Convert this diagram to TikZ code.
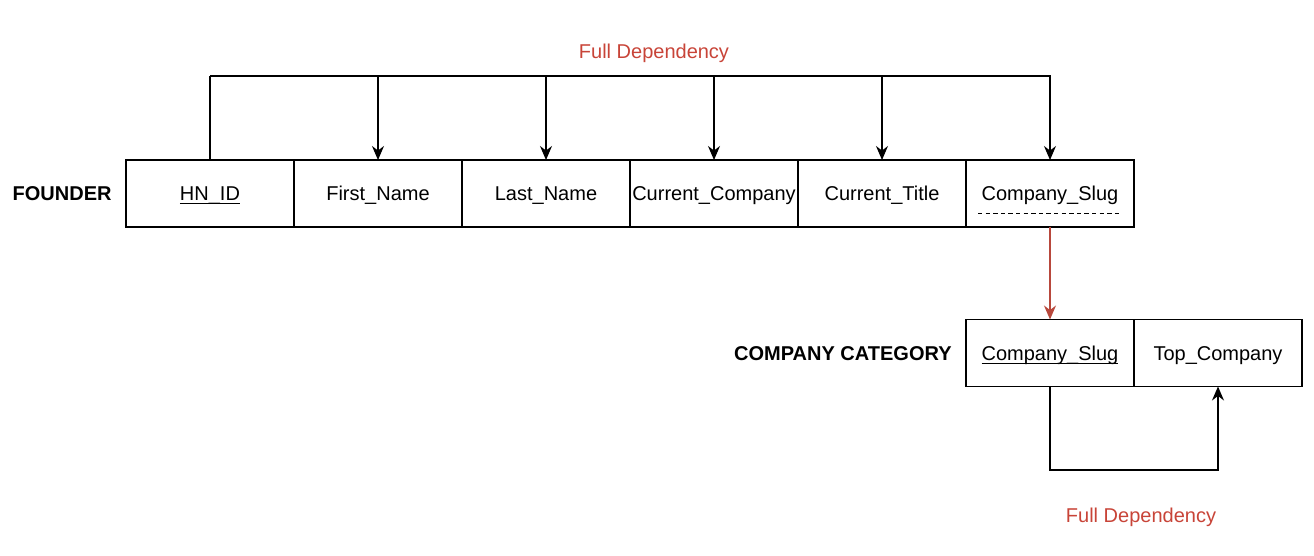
\documentclass[tikz,border=0pt]{standalone}
\usepackage{fontspec}
\setmainfont{Liberation Sans}
\usetikzlibrary{positioning,arrows.meta}
\definecolor{deptext}{RGB}{200,68,56}
\definecolor{depline}{RGB}{184,72,60}
\tikzset{
attr/.style={draw, line width=0.6pt, minimum width=84pt, minimum
    height=33.5pt, inner xsep=0pt, outer sep=0pt, text height=8pt,
    text depth=0.5pt, font=\fontsize{10}{12}\selectfont},
relname/.style={font=\bfseries\fontsize{10}{12}\selectfont, inner sep=0pt,
    text height=8pt, text depth=0.5pt},
dep/.style={line width=0.6pt, -{Stealth[length=7pt,width=6pt]}},
deplabel/.style={text=deptext, text height=8pt, text depth=0.5pt,
    font=\fontsize{10}{12}\selectfont}
}
\newlength{\keywd}
\newcommand{\key}[1]{\settowidth{\keywd}{#1}\rlap{\rule[-1.6pt]{\keywd}{0.5pt}}#1}

\begin{document}
\begin{tikzpicture}[x=0.5pt, y=-0.5pt]
	\useasboundingbox (0,0) rectangle (1314,556);
	% FOUNDER
	\node[attr] (hnid) at (210,193.5) {\key{HN\_ID}};
	\node[attr, right=0pt of hnid] (fname) {First\_Name};
	\node[attr, right=0pt of fname] (lname) {Last\_Name};
	\node[attr, right=0pt of lname] (ccomp) {Current\_Company};
	\node[attr, right=0pt of ccomp] (ctitle) {Current\_Title};
	\node[attr, right=0pt of ctitle] (fslug) {Company\_Slug};
	\node[relname, left=7pt of hnid] (founder) {FOUNDER};
	\draw[line width=0.5pt, dash pattern=on 2.2pt off 1.6pt]
		([xshift=6pt,yshift=6.5pt]fslug.south west) --
		([xshift=-6pt,yshift=6.5pt]fslug.south east);
	\coordinate (top) at (210,76);
	\draw[line width=0.6pt] (hnid.north) -- (top);
	\draw[dep] (top) -| (fslug.north);
	\foreach \n in {fname,lname,ccomp,ctitle}
		\draw[dep] (top -| \n.north) -- (\n.north);
	\node[deplabel] (deptop) at (654,51) {Full Dependency};
	% COMPANY CATEGORY
	\node[attr] (cslug) at (1050,353) {\key{Company\_Slug}};
	\node[attr, right=0pt of cslug] (topcomp) {Top\_Company};
	\node[relname, left=7pt of cslug] (compcat) {COMPANY CATEGORY};
	\draw[dep, draw=depline] (fslug.south) -- (cslug.north);
	\coordinate (loop) at (1050,470);
	\draw[dep] (cslug.south) -- (loop) -| (topcomp.south);
	\node[deplabel] (depbot) at (1141,515) {Full Dependency};
\end{tikzpicture}
\end{document}
